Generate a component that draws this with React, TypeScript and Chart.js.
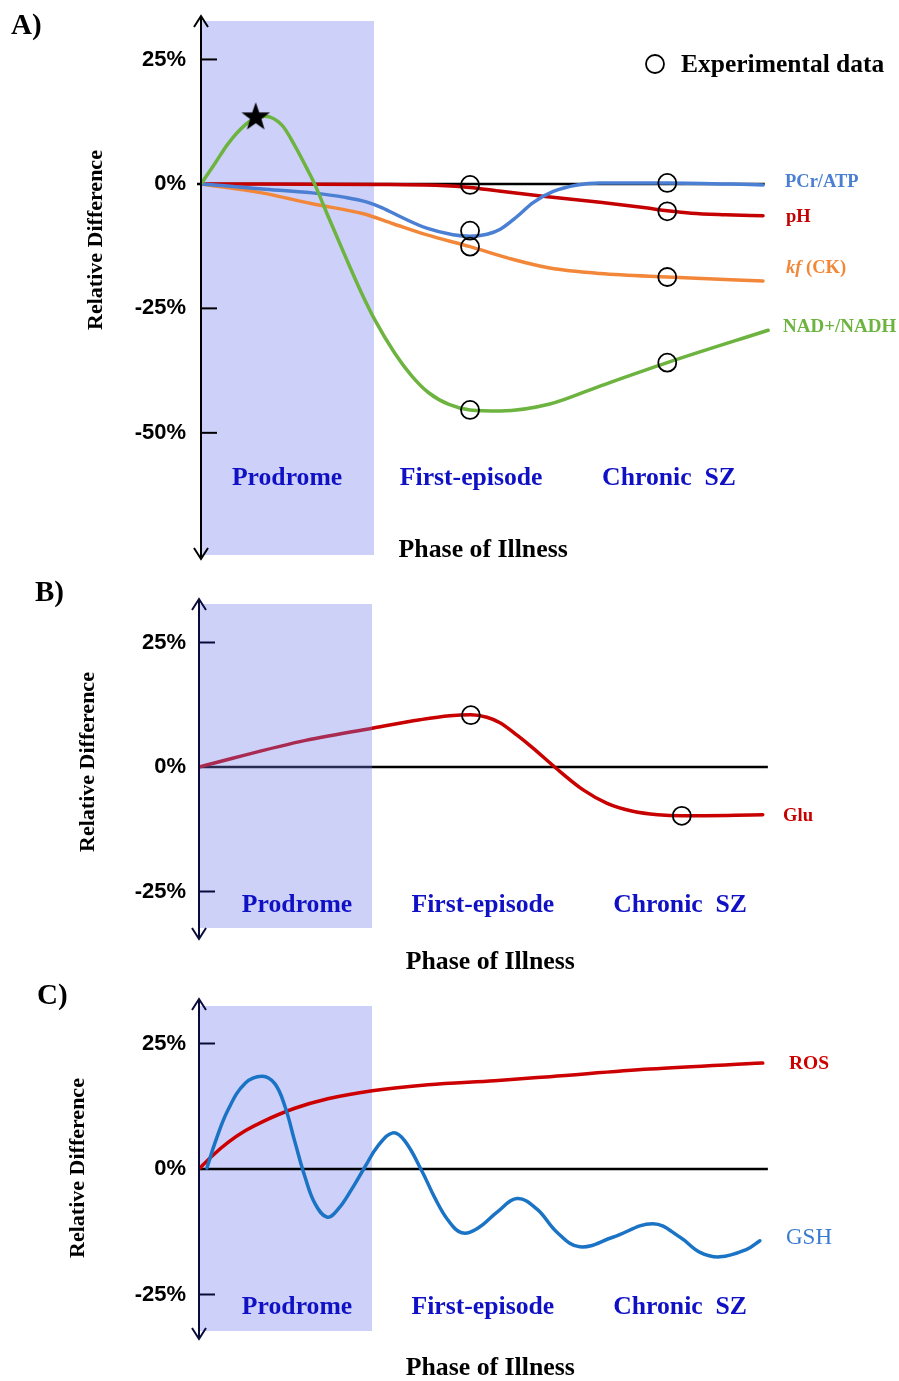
import React, { useEffect, useRef } from "react";
import { Chart, registerables } from "chart.js";

Chart.register(...registerables);

// ---------- shared labels ----------
const PHASE_LABELS = ["Prodrome", "First-episode", "Chronic  SZ"];
const TICKS_A = [25, 0, -25, -50];
const TICKS_BC = [25, 0, -25];

// ---------- Panel A (x: 0..100 phase-of-illness units, y: % relative difference) ----------
const A_PCR_X = [0, 10.7, 19.5, 25.3, 29.0, 31.8, 35.0, 39.6, 44.2, 47.2, 50.2, 52.5, 55.4, 58.2, 61.8, 66.0, 70.0, 81.8, 98.6];
const A_PCR_Y = [0, -1.0, -1.8, -2.7, -3.6, -4.8, -6.6, -8.9, -10.2, -10.5, -10.1, -9.1, -6.6, -3.8, -1.5, -0.2, 0.2, 0.2, -0.2];

const A_PH_X = [0, 30.4, 42.0, 47.2, 52.0, 60.0, 70.0, 78.0, 81.8, 86.0, 92.0, 98.6];
const A_PH_Y = [0, -0.1, -0.3, -0.7, -1.4, -2.5, -3.7, -4.8, -5.4, -5.9, -6.2, -6.4];

const A_KF_X = [0, 10.7, 19.5, 28.5, 33.7, 39.5, 47.2, 54.2, 61.2, 70.0, 81.8, 98.6];
const A_KF_Y = [0, -1.8, -4.0, -6.0, -8.0, -10.2, -12.6, -15.0, -16.9, -18.0, -18.7, -19.5];

const A_NAD_X = [0, 2.5, 4.7, 7.7, 9.6, 11.2, 14.2, 16.5, 18.8, 20.0, 22.3, 25.3, 28.2, 30.5, 34.0, 37.0, 40.0, 43.5, 47.2, 52.5, 61.2, 70.0, 81.8, 99.5];
const A_NAD_Y = [0, 4.2, 8.0, 11.8, 13.2, 13.6, 11.8, 7.6, 2.6, -0.2, -6.5, -14.5, -22.0, -27.3, -34.0, -38.6, -42.0, -44.3, -45.4, -45.6, -44.2, -40.6, -35.9, -29.4];

const A_EXP_X = [47.2, 47.2, 47.2, 47.2, 81.8, 81.8, 81.8, 81.8];
const A_EXP_Y = [-0.2, -9.4, -12.6, -45.4, 0.2, -5.5, -18.7, -35.9];

const A_STAR_X = [9.6];
const A_STAR_Y = [13.4];

// ---------- Panel B ----------
const B_GLU_X = [0, 17.7, 30.4, 38.8, 44.0, 47.7, 50.5, 52.8, 55.8, 58.6, 62.6, 67.4, 71.6, 76.1, 80.5, 84.7, 98.9];
const B_GLU_Y = [0, 5.1, 7.8, 9.5, 10.3, 10.5, 10.0, 8.9, 6.4, 3.8, -0.2, -4.6, -7.3, -8.9, -9.6, -9.8, -9.6];

const B_EXP_X = [47.7, 84.7];
const B_EXP_Y = [10.4, -9.8];

// ---------- Panel C ----------
const C_ROS_X = [0, 2.3, 5.1, 8.1, 11.1, 16.8, 22.6, 30.4, 40.2, 51.9, 61.6, 79.1, 98.9];
const C_ROS_Y = [0, 2.6, 5.3, 7.6, 9.4, 12.1, 14.0, 15.6, 16.8, 17.6, 18.4, 19.9, 21.1];

const C_GSH_X = [1.4, 2.8, 5.1, 8.1, 11.1, 13.3, 15.1, 16.8, 18.6, 20.4, 22.5, 24.4, 26.8, 29.1, 31.4, 34.0, 36.1, 39.1, 41.4, 43.7, 46.1, 48.9, 52.3, 55.8, 59.3, 62.8, 66.8, 72.6, 79.6, 84.4, 87.9, 91.4, 96.1, 98.4];
const C_GSH_Y = [0.2, 5.2, 11.8, 17.1, 18.5, 17.0, 12.4, 5.5, -1.6, -7.0, -9.6, -8.0, -4.0, 0.4, 4.6, 7.2, 5.6, -0.4, -5.8, -10.2, -12.7, -11.8, -8.6, -5.9, -8.0, -12.6, -15.5, -13.6, -10.9, -13.6, -16.6, -17.5, -16.0, -14.3];

// ---------- colours ----------
const COL_PCR = "#4a7fd4";
const COL_PH = "#c40000";
const COL_KF = "#f2873a";
const COL_NAD = "#6db33f";
const COL_GLU = "#c80000";
const COL_ROS = "#cc0000";
const COL_GSH = "#1a73c4";
const COL_GSH_LABEL = "#3a7bd0";
const COL_PHASE = "#1010c4";
const SERIF = "'Liberation Serif', 'Times New Roman', serif";
const SANS = "'Liberation Sans', Arial, sans-serif";

type LineSpec = { xs: number[]; ys: number[]; color: string; order: number; smooth?: "monotone" | "bezier" };
type LabelSpec = { parts: { text: string; italic?: boolean }[]; color: string; size: number; bold: boolean; y: number; dx: number };
type PanelSpec = {
  top: number;
  height: number;
  axisX: number;
  plotTop: number;
  plotBottom: number;
  yMin: number;
  yMax: number;
  ticks: number[];
  lines: LineSpec[];
  expX: number[];
  expY: number[];
  starX?: number[];
  starY?: number[];
  labels: LabelSpec[];
  deco: any;
};

const zip = (xs: number[], ys: number[]) => xs.map((x, i) => ({ x, y: ys[i] }));

function makeStar(): HTMLCanvasElement {
  const c = document.createElement("canvas");
  c.width = 32;
  c.height = 32;
  const g = c.getContext("2d")!;
  g.beginPath();
  for (let i = 0; i < 10; i++) {
    const r = i % 2 === 0 ? 15 : 6;
    const a = -Math.PI / 2 + (i * Math.PI) / 5;
    const px = 16 + r * Math.cos(a);
    const py = 16 + r * Math.sin(a);
    if (i === 0) g.moveTo(px, py);
    else g.lineTo(px, py);
  }
  g.closePath();
  g.fillStyle = "#000";
  g.fill();
  return c;
}

function drawShade(chart: any, d: any, overlay: boolean) {
  const { ctx } = chart;
  const xs = chart.scales.x;
  const x0 = xs.getPixelForValue(0);
  const x1 = xs.getPixelForValue(d.shadeEnd);
  ctx.save();
  ctx.fillStyle = overlay ? "rgba(112,124,235,0.35)" : "#cdd1f9";
  ctx.fillRect(x0, d.shadeTop, x1 - x0, d.shadeBottom - d.shadeTop);
  ctx.restore();
}

const decoPlugin = {
  id: "deco",
  beforeDatasetsDraw(chart: any, _args: any, d: any) {
    const { ctx } = chart;
    const xs = chart.scales.x;
    const ys = chart.scales.y;
    if (!d.overlay) drawShade(chart, d, false);
    const y0 = ys.getPixelForValue(0);
    ctx.save();
    ctx.strokeStyle = "#000";
    ctx.lineWidth = 2.5;
    ctx.beginPath();
    ctx.moveTo(xs.getPixelForValue(0) - d.zeroStub, y0);
    ctx.lineTo(xs.getPixelForValue(d.zeroEnd), y0);
    ctx.stroke();
    ctx.restore();
  },
  afterDatasetsDraw(chart: any, _args: any, d: any) {
    if (d.overlay) drawShade(chart, d, true);
  },
  afterDraw(chart: any, _args: any, d: any) {
    const { ctx, chartArea: area } = chart;
    const xs = chart.scales.x;
    const ys = chart.scales.y;
    const ax = area.left;
    ctx.save();
    // axis with arrows
    ctx.strokeStyle = d.axisColor;
    ctx.lineWidth = 2;
    ctx.beginPath();
    ctx.moveTo(ax, area.top + 1);
    ctx.lineTo(ax, area.bottom - 1);
    ctx.stroke();
    ctx.beginPath();
    ctx.moveTo(ax - 7, area.top + 11);
    ctx.lineTo(ax, area.top);
    ctx.lineTo(ax + 7, area.top + 11);
    ctx.stroke();
    ctx.beginPath();
    ctx.moveTo(ax - 7, area.bottom - 11);
    ctx.lineTo(ax, area.bottom);
    ctx.lineTo(ax + 7, area.bottom - 11);
    ctx.stroke();
    // inner tick marks
    ys.ticks.forEach((t: any) => {
      if (t.value === 0) return;
      const py = ys.getPixelForValue(t.value);
      ctx.beginPath();
      ctx.moveTo(ax, py);
      ctx.lineTo(ax + 16, py);
      ctx.stroke();
    });

    // panel letter
    ctx.fillStyle = "#000";
    ctx.textBaseline = "middle";
    ctx.textAlign = "left";
    ctx.font = `bold 29px ${SERIF}`;
    ctx.fillText(d.letter, d.letterX, d.letterY);

    // y-axis title
    ctx.save();
    ctx.translate(d.titleX, d.titleY);
    ctx.rotate(-Math.PI / 2);
    ctx.textAlign = "center";
    ctx.font = `bold 22px ${SERIF}`;
    ctx.fillText("Relative Difference", 0, 0);
    ctx.restore();

    // phase labels
    ctx.textAlign = "center";
    ctx.fillStyle = COL_PHASE;
    ctx.font = `bold 25.7px ${SERIF}`;
    PHASE_LABELS.forEach((t, i) => {
      ctx.fillText(t, xs.getPixelForValue(d.phaseX[i]), d.phaseY);
    });

    // x-axis title
    ctx.fillStyle = "#000";
    ctx.font = `bold 25.8px ${SERIF}`;
    ctx.fillText("Phase of Illness", xs.getPixelForValue(d.illnessX), d.illnessY);

    // series labels
    ctx.textAlign = "left";
    (d.labels as LabelSpec[]).forEach((l) => {
      let px = xs.getPixelForValue(100) + l.dx;
      const py = ys.getPixelForValue(l.y);
      ctx.fillStyle = l.color;
      l.parts.forEach((p) => {
        ctx.font = `${p.italic ? "italic " : ""}${l.bold ? "bold " : ""}${l.size}px ${SERIF}`;
        ctx.fillText(p.text, px, py);
        px += ctx.measureText(p.text).width;
      });
    });

    // legend
    if (d.legend) {
      ctx.strokeStyle = "#000";
      ctx.lineWidth = 1.8;
      ctx.beginPath();
      ctx.arc(d.legend.x, d.legend.y, 9, 0, Math.PI * 2);
      ctx.stroke();
      ctx.fillStyle = "#000";
      ctx.font = `bold 25.5px ${SERIF}`;
      ctx.fillText("Experimental data", d.legend.x + 26, d.legend.y + 1);
    }
    ctx.restore();
  },
};

const PANEL_A: PanelSpec = {
  top: 0,
  height: 575,
  axisX: 201,
  plotTop: 13,
  plotBottom: 566,
  yMin: -(566 - 184) / 5.07,
  yMax: (184 - 13) / 5.07,
  ticks: TICKS_A,
  lines: [
    { xs: A_PH_X, ys: A_PH_Y, color: COL_PH, order: 4 },
    { xs: A_KF_X, ys: A_KF_Y, color: COL_KF, order: 3 },
    { xs: A_PCR_X, ys: A_PCR_Y, color: COL_PCR, order: 2 },
    { xs: A_NAD_X, ys: A_NAD_Y, color: COL_NAD, order: 1 },
  ],
  expX: A_EXP_X,
  expY: A_EXP_Y,
  starX: A_STAR_X,
  starY: A_STAR_Y,
  labels: [
    { parts: [{ text: "PCr/ATP" }], color: COL_PCR, size: 18.5, bold: true, y: 0.4, dx: 14 },
    { parts: [{ text: "pH" }], color: COL_PH, size: 18.5, bold: true, y: -6.7, dx: 15 },
    { parts: [{ text: "kf", italic: true }, { text: " (CK)" }], color: COL_KF, size: 18.5, bold: true, y: -17.0, dx: 15 },
    { parts: [{ text: "NAD+/NADH" }], color: COL_NAD, size: 19, bold: true, y: -28.8, dx: 12 },
  ],
  deco: {
    overlay: false,
    shadeEnd: 30.35,
    shadeTop: 21,
    shadeBottom: 555,
    zeroEnd: 98.9,
    zeroStub: 4,
    axisColor: "#000",
    letter: "A)",
    letterX: 11,
    letterY: 27,
    titleX: 96,
    titleY: 240,
    phaseX: [15.1, 47.4, 82.1],
    phaseY: 478,
    illnessX: 49.5,
    illnessY: 550,
    legend: { x: 655, y: 64 },
  },
};

const PANEL_B: PanelSpec = {
  top: 578,
  height: 400,
  axisX: 199,
  plotTop: 21,
  plotBottom: 361,
  yMin: -(361 - 189) / 4.98,
  yMax: (189 - 21) / 4.98,
  ticks: TICKS_BC,
  lines: [{ xs: B_GLU_X, ys: B_GLU_Y, color: COL_GLU, order: 1 }],
  expX: B_EXP_X,
  expY: B_EXP_Y,
  labels: [{ parts: [{ text: "Glu" }], color: COL_GLU, size: 18.6, bold: true, y: -9.8, dx: 14 }],
  deco: {
    overlay: true,
    shadeEnd: 30.35,
    shadeTop: 26,
    shadeBottom: 350,
    zeroEnd: 99.8,
    zeroStub: 0,
    axisColor: "#0b0b3b",
    letter: "B)",
    letterX: 35,
    letterY: 16,
    titleX: 88,
    titleY: 184,
    phaseX: [17.2, 49.8, 84.4],
    phaseY: 327,
    illnessX: 51.1,
    illnessY: 384,
    legend: null,
  },
};

const PANEL_C: PanelSpec = {
  top: 978,
  height: 403,
  axisX: 199,
  plotTop: 21,
  plotBottom: 361,
  yMin: -170 / 5.02,
  yMax: 170 / 5.02,
  ticks: TICKS_BC,
  lines: [
    { xs: C_ROS_X, ys: C_ROS_Y, color: COL_ROS, order: 2 },
    { xs: C_GSH_X, ys: C_GSH_Y, color: COL_GSH, order: 1, smooth: "bezier" },
  ],
  expX: [],
  expY: [],
  labels: [
    { parts: [{ text: "ROS" }], color: COL_ROS, size: 19.5, bold: true, y: 20.9, dx: 20 },
    { parts: [{ text: "GSH" }], color: COL_GSH_LABEL, size: 23, bold: false, y: -13.7, dx: 17 },
  ],
  deco: {
    overlay: false,
    shadeEnd: 30.35,
    shadeTop: 28,
    shadeBottom: 353,
    zeroEnd: 99.8,
    zeroStub: 0,
    axisColor: "#0b0b3b",
    letter: "C)",
    letterX: 37,
    letterY: 19,
    titleX: 78,
    titleY: 190,
    phaseX: [17.2, 49.8, 84.4],
    phaseY: 329,
    illnessX: 51.1,
    illnessY: 390,
    legend: null,
  },
};

const WIDTH = 899;
const PLOT_W = 570;

function Panel({ spec }: { spec: PanelSpec }) {
  const ref = useRef<HTMLCanvasElement | null>(null);
  useEffect(() => {
    if (!ref.current) return;
    const datasets: any[] = spec.lines.map((l) => ({
      data: zip(l.xs, l.ys),
      borderColor: l.color,
      backgroundColor: l.color,
      borderWidth: 3.5,
      pointRadius: 0,
      cubicInterpolationMode: l.smooth === "bezier" ? "default" : "monotone",
      tension: l.smooth === "bezier" ? 0.4 : 0,
      fill: false,
      order: l.order,
      borderCapStyle: "round",
      borderJoinStyle: "round",
    }));
    if (spec.expX.length) {
      datasets.push({
        data: zip(spec.expX, spec.expY),
        showLine: false,
        pointStyle: "circle",
        pointRadius: 9,
        pointBorderWidth: 1.8,
        pointBorderColor: "#000",
        pointBackgroundColor: "rgba(0,0,0,0)",
        order: 0,
      });
    }
    if (spec.starX && spec.starY) {
      datasets.push({
        data: zip(spec.starX, spec.starY),
        showLine: false,
        pointStyle: makeStar(),
        pointRadius: 15,
        order: 0,
      });
    }
    const chart = new Chart(ref.current, {
      type: "line",
      data: { datasets },
      options: {
        responsive: false,
        animation: false,
        events: [],
        layout: {
          padding: {
            left: 0,
            right: WIDTH - spec.axisX - PLOT_W,
            top: spec.plotTop,
            bottom: spec.height - spec.plotBottom,
          },
        },
        scales: {
          x: { type: "linear", min: 0, max: 100, display: false },
          y: {
            type: "linear",
            min: spec.yMin,
            max: spec.yMax,
            afterFit: (s: any) => {
              s.width = spec.axisX;
              s.paddingTop = 0;
              s.paddingBottom = 0;
              s.paddingLeft = 0;
              s.paddingRight = 0;
            },
            afterBuildTicks: (s: any) => {
              s.ticks = spec.ticks.map((v) => ({ value: v }));
            },
            grid: { display: false, drawTicks: false },
            border: { display: false },
            ticks: {
              padding: spec.axisX === 201 ? 15 : 13,
              color: "#000",
              font: { family: SANS, size: 22, weight: "bold" },
              callback: (v: any) => `${v}%`,
            },
          },
        },
        plugins: {
          legend: { display: false },
          tooltip: { enabled: false },
          deco: { ...spec.deco, labels: spec.labels },
        } as any,
      },
      plugins: [decoPlugin],
    } as any);
    return () => chart.destroy();
  }, [spec]);
  return (
    <canvas
      ref={ref}
      width={WIDTH}
      height={spec.height}
      style={{ position: "absolute", left: 0, top: spec.top, width: WIDTH, height: spec.height }}
    />
  );
}

export default function App() {
  return (
    <div style={{ position: "absolute", left: 0, top: 0, width: WIDTH, height: 1381, background: "#fff", overflow: "hidden" }}>
      <Panel spec={PANEL_A} />
      <Panel spec={PANEL_B} />
      <Panel spec={PANEL_C} />
    </div>
  );
}
